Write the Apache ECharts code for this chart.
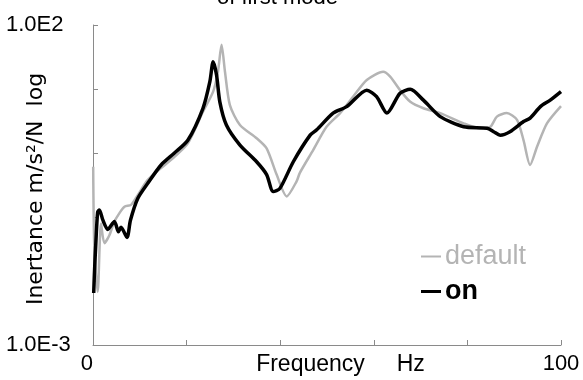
<!DOCTYPE html>
<html>
<head>
<meta charset="utf-8">
<script src="https://cdn.jsdelivr.net/npm/echarts@6/dist/echarts.min.js"></script>
<style>html,body{margin:0;padding:0;background:#fff;}#c{width:583px;height:380px;}</style>
</head>
<body>
<div id="c"></div>
<script>
// Frequency (Hz) and inertance (m/s^2/N)
const freqDefault = [0.04, 0.3, 1.0, 1.71, 2.44, 3.5, 4.58, 5.65, 6.72, 8.13, 9.56, 11.7, 14.55, 17.4, 20.26, 23.5, 25.67, 26.7, 27.47, 28.2, 29.25, 31.4, 34.96, 37.1, 39.24, 41.4, 43.5, 44.2, 47.07, 49.9, 52.8, 55.6, 58.5, 62.0, 63.5, 65.6, 67.8, 70.6, 74.2, 79.2, 82.7, 84.9, 86.3, 88.4, 90.6, 92.0, 93.4, 94.9, 97.0, 100];
const valDefault = [0.61, 0.03, 0.0068, 0.079, 0.039, 0.052, 0.085, 0.115, 0.145, 0.155, 0.22, 0.38, 0.58, 0.87, 1.41, 4.4, 9.1, 18.6, 49, 18.6, 5.6, 2.74, 1.7, 1.18, 0.46, 0.21, 0.36, 0.49, 1.12, 2.57, 4.2, 7.6, 13.8, 18.6, 15.6, 9.6, 6.3, 5.0, 4.2, 2.9, 2.44, 2.57, 3.7, 4.2, 3.3, 1.58, 0.65, 1.26, 2.9, 5.4];
const freqOn = [0.15, 0.3, 0.64, 1.0, 1.37, 2.1, 3.15, 4.58, 5.43, 5.99, 7.27, 8.0, 9.56, 11.7, 14.55, 17.4, 20.26, 23.5, 24.97, 25.67, 26.4, 27.1, 28.5, 31.4, 34.96, 37.1, 38.5, 39.94, 42.8, 46.4, 47.8, 51.3, 54.2, 58.5, 60.6, 62.8, 65.6, 67.8, 70.6, 74.2, 79.2, 84.2, 85.6, 87.0, 89.1, 92.0, 93.4, 95.6, 97.7, 100];
const valOn = [0.0065, 0.013, 0.044, 0.12, 0.129, 0.09, 0.064, 0.085, 0.059, 0.069, 0.048, 0.089, 0.195, 0.337, 0.65, 1.0, 1.58, 5.0, 13, 26.7, 16.5, 6.3, 2.74, 1.33, 0.73, 0.46, 0.25, 0.28, 0.73, 1.9, 2.3, 4.2, 5.3, 9.6, 7.6, 4.2, 8.6, 9.9, 6.7, 3.7, 2.57, 2.44, 2.15, 1.9, 2.15, 3.1, 3.5, 5.3, 6.7, 9.1];
const seriesNames = ['default', 'on'];
const yTickLabels = {'0.001': '1.0E-3', '100': '1.0E2'};
const xTickLabels = {'0': '0', '100': '100'};

const font = 'Liberation Sans, Arial, sans-serif';
const wideFont = 'DejaVu Sans, sans-serif';
const pair = (xs, ys) => xs.map((x, i) => [x, ys[i]]);
const chart = echarts.init(document.getElementById('c'), null, {renderer: 'canvas'});
chart.setOption({
  animation: false,
  backgroundColor: '#fff',
  title: {
    text: 'of first mode', left: 217, top: -13, padding: 0,
    textStyle: {fontFamily: font, fontSize: 22, fontWeight: 'normal', color: '#000'}
  },
  grid: {left: 93, right: 22, top: 25, bottom: 35, containLabel: false, outerBoundsMode: 'none'},
  legend: [
    {data: [{name: seriesNames[0], icon: 'rect'}], left: 421, top: 243, itemWidth: 20, itemHeight: 2,
     selectedMode: false, padding: 0,
     textStyle: {fontFamily: font, fontSize: 27, color: '#b4b4b4', padding: [0, 0, 0, -1]}},
    {data: [{name: seriesNames[1], icon: 'rect'}], left: 421, top: 278, itemWidth: 20, itemHeight: 3,
     selectedMode: false, padding: 0,
     textStyle: {fontFamily: font, fontSize: 27, fontWeight: 'bold', color: '#000', padding: [0, 0, 0, -1]}}
  ],
  xAxis: {
    type: 'value', min: 0, max: 100, interval: 20,
    name: 'Frequency     Hz', nameLocation: 'middle', nameGap: 8, nameMoveOverlap: false,
    nameTextStyle: {fontFamily: font, fontSize: 23, color: '#000', padding: [0, 0, 0, 27], verticalAlign: 'top'},
    axisLine: {lineStyle: {color: '#8a8a8a', width: 1}},
    axisTick: {inside: true, length: 5, lineStyle: {color: '#8a8a8a'}},
    splitLine: {show: false},
    axisLabel: {
      margin: 8, fontFamily: font, fontSize: 22, color: '#000', alignMinLabel: 'right',
      formatter: v => xTickLabels[String(v)] || ''
    }
  },
  yAxis: {
    type: 'log', logBase: 10, min: 0.001, max: 100,
    name: 'Inertance m/s\u00b2/N  log', nameLocation: 'middle', nameGap: 46, nameMoveOverlap: false,
    nameTextStyle: {fontFamily: wideFont, fontSize: 22, color: '#000', padding: [0, 8, 0, 0]},
    axisLine: {show: true, lineStyle: {color: '#8a8a8a', width: 1}},
    axisTick: {show: true, inside: true, length: 5, lineStyle: {color: '#8a8a8a'}},
    splitLine: {show: false},
    axisLabel: {
      margin: 87, align: 'left', fontFamily: font, fontSize: 22, color: '#000',
      formatter: v => yTickLabels[String(+v.toPrecision(6))] || ''
    }
  },
  series: [
    {name: seriesNames[0], type: 'line', data: pair(freqDefault, valDefault), showSymbol: false, smooth: 0.25,
     itemStyle: {color: '#b4b4b4'}, lineStyle: {color: '#b4b4b4', width: 2.5}, z: 2},
    {name: seriesNames[1], type: 'line', data: pair(freqOn, valOn), showSymbol: false, smooth: 0.25,
     itemStyle: {color: '#000'}, lineStyle: {color: '#000', width: 3.5}, z: 3}
  ]
});
</script>
</body>
</html>
